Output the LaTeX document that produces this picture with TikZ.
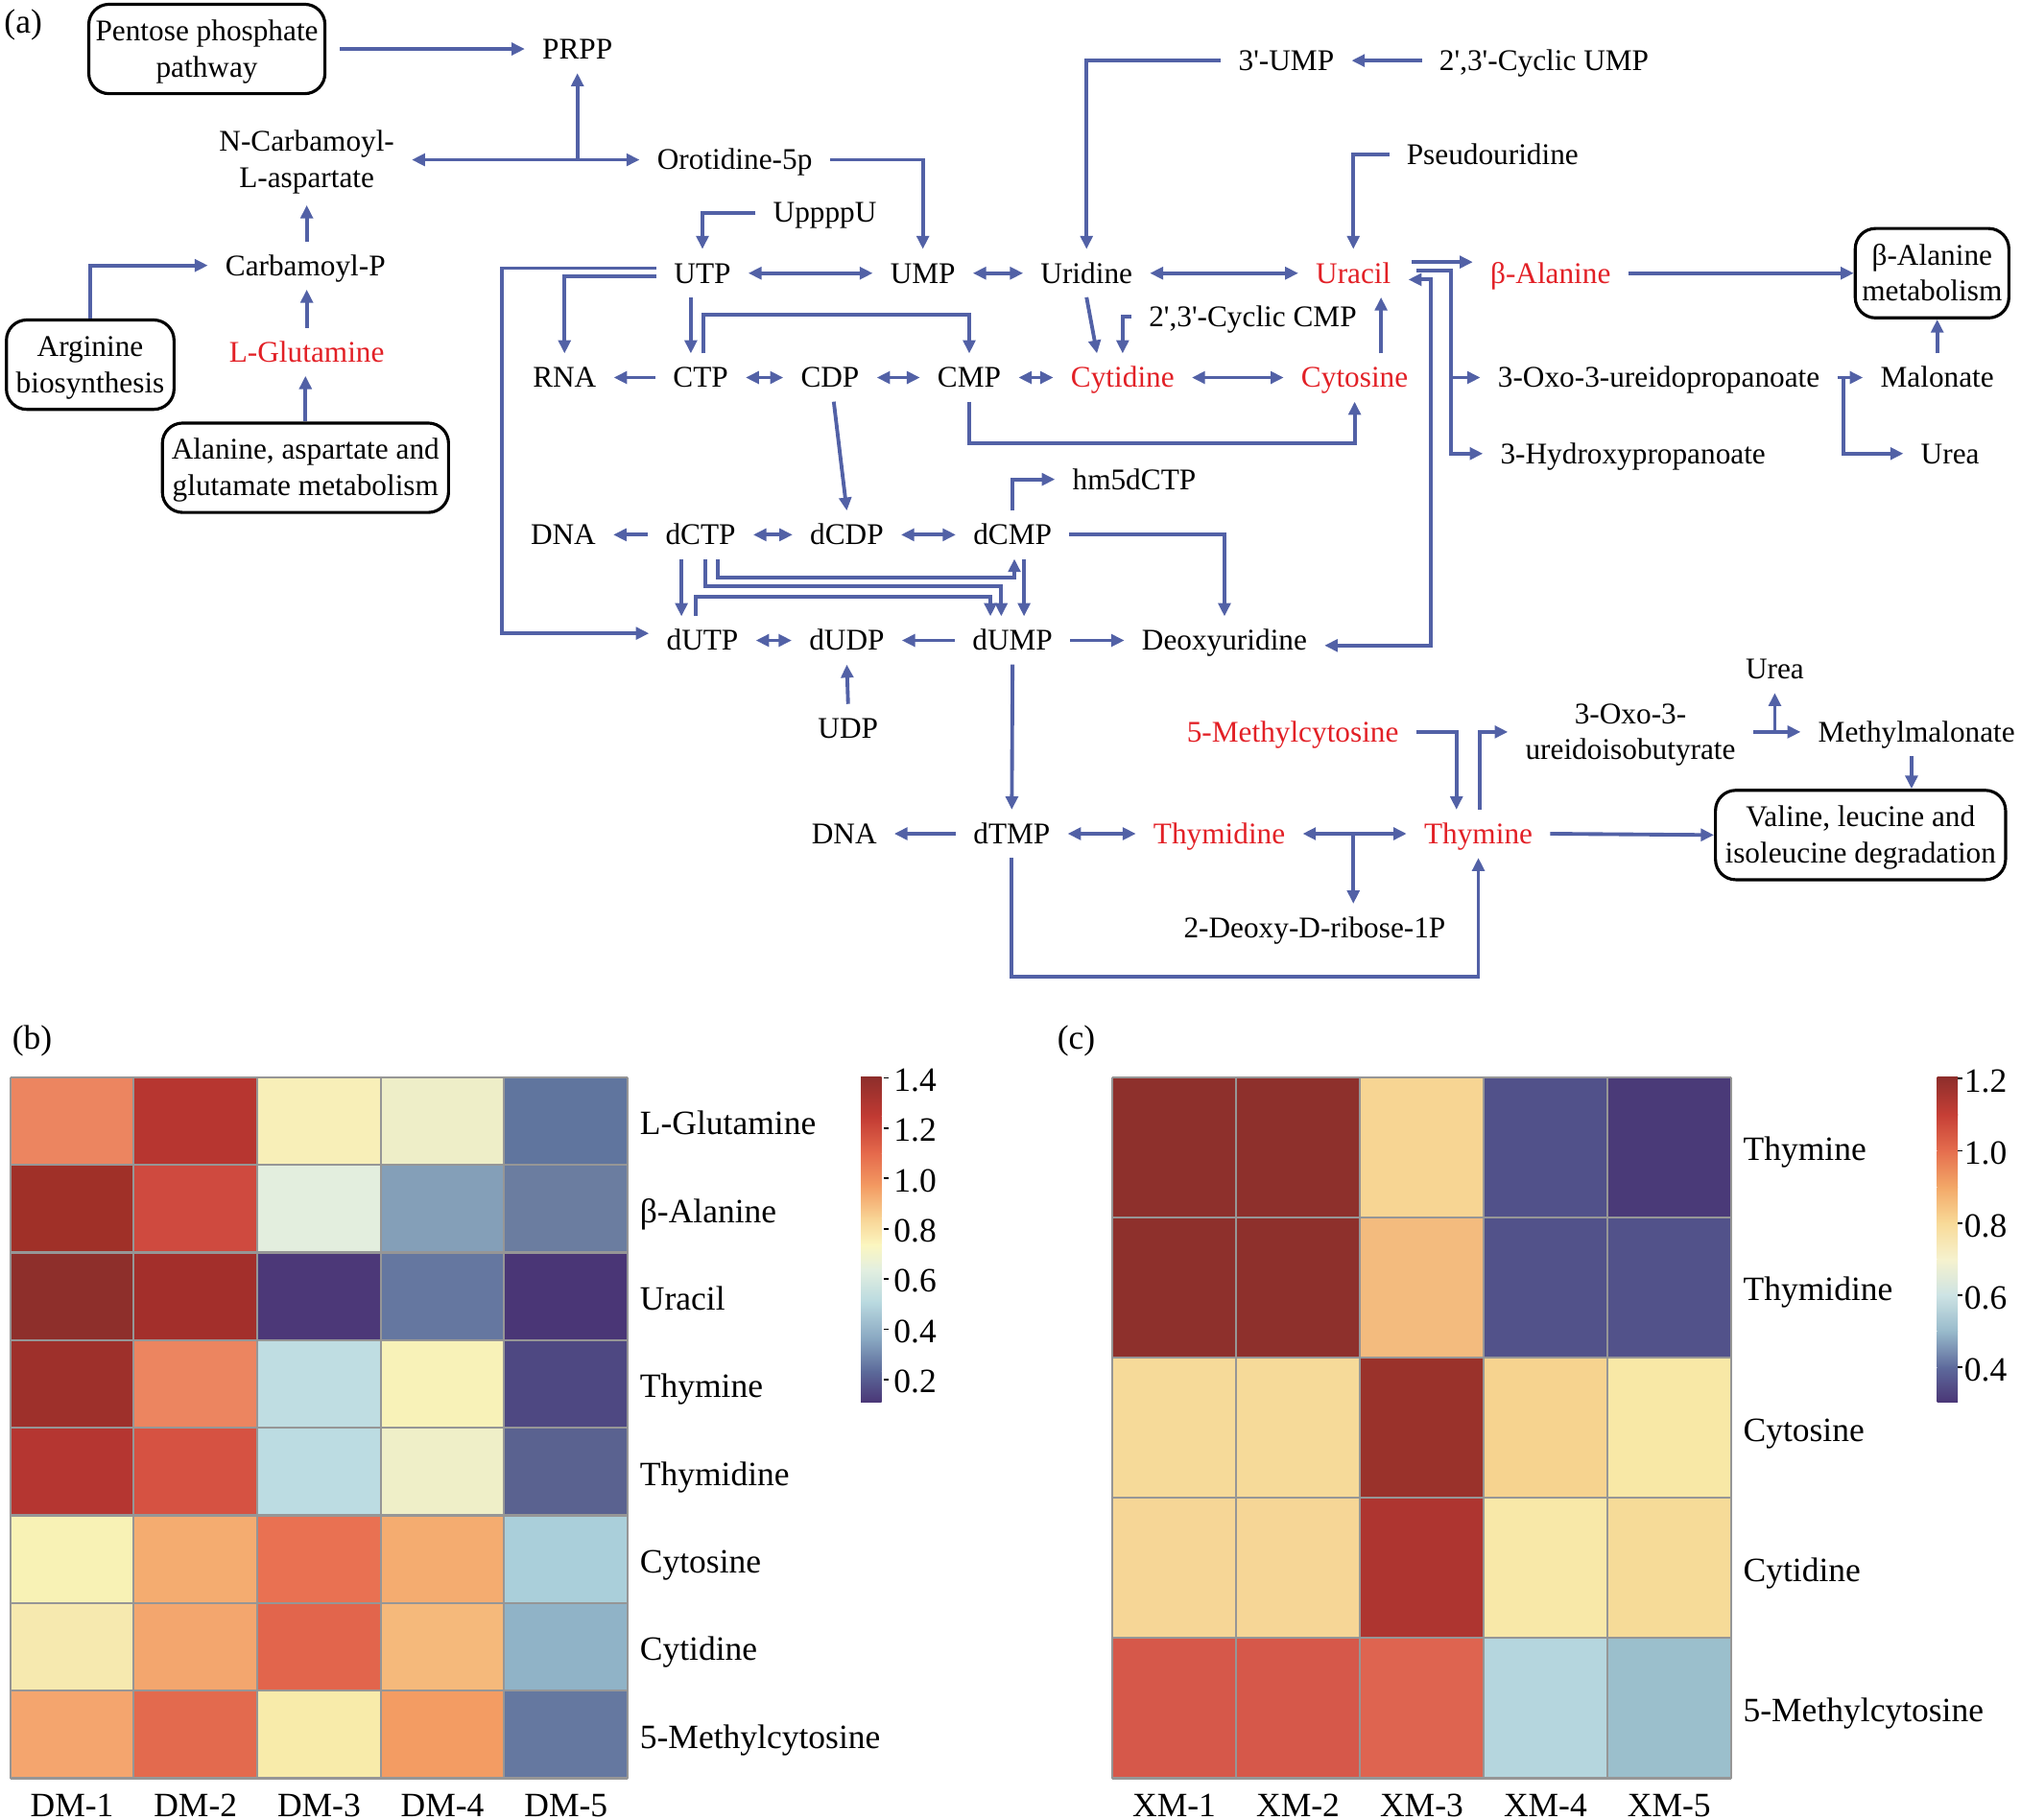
\documentclass[tikz,border=0pt]{standalone}
\usepackage{fontspec}
\setmainfont{Liberation Serif}
\usetikzlibrary{arrows.meta,calc}
\definecolor{ln}{RGB}{82,97,166}
\definecolor{hl}{RGB}{226,32,38}
\definecolor{gridc}{RGB}{150,150,150}
\newcommand\topstr{\rule{0pt}{7.8pt}}
\newcommand\botstr{\rule[-2pt]{0pt}{2pt}}
\newcommand\sq{\textquotesingle}
\tikzset{
  >={Triangle[length=3.9pt,width=3.6pt]},
  con/.style={draw=ln, line width=1.1pt, ->},
  bcon/.style={draw=ln, line width=1.1pt, <->},
  met/.style={font=\fontsize{8.9}{10.7}\selectfont, text height=6.9pt, text depth=1pt, inner xsep=5pt, inner ysep=3pt},
  hit/.style={met, text=hl},
  two/.style={font=\fontsize{8.9}{10.7}\selectfont, align=center, inner xsep=5pt, inner ysep=3pt},
  pbox/.style={two, draw=black, line width=0.9pt, rounded corners=6pt, inner xsep=2pt},
  hlab/.style={font=\fontsize{10.1}{12}\selectfont, text height=7.8pt, text depth=1.1pt, inner sep=0pt, anchor=west},
  clab/.style={font=\fontsize{10.1}{12}\selectfont, text height=7pt, text depth=0pt, inner sep=0pt, anchor=center},
  gl/.style={draw=gridc, line width=0.6pt},
  plab/.style={font=\fontsize{10.1}{12}\selectfont, inner sep=0pt}
}
\begin{document}
\begin{tikzpicture}[x=0.01343cm, y=-0.01343cm]
\useasboundingbox (0,0) rectangle (1568,1412);
% ---------- panel (a) ----------
\node[plab] (la) at (18,19) {(a)};
\node[pbox, minimum width=2.458cm, minimum height=0.9cm] (pent) at (160.5,38) {\topstr Pentose phosphate\\pathway\botstr};
\node[met] (prpp) at (448,38) {PRPP};
\node[two] (ncarb) at (238,124) {\topstr N-Carbamoyl-\\L-aspartate\botstr};
\node[met] (orot) at (570,124) {Orotidine-5p};
\node[met] (carb) at (237,206) {Carbamoyl-P};
\node[hit] (lglu) at (238,273) {L-Glutamine};
\node[pbox, minimum width=1.746cm, minimum height=0.886cm] (arg) at (70,283) {\topstr Arginine\\biosynthesis\botstr};
\node[pbox, minimum width=2.981cm, minimum height=0.886cm] (ala) at (237,363) {\topstr Alanine, aspartate and\\glutamate metabolism\botstr};
\node[met] (upppu) at (640,165) {UppppU};
\node[met] (utp) at (545,212) {UTP};
\node[met] (ump) at (716,212) {UMP};
\node[met] (urid) at (843,212) {Uridine};
\node[hit] (ura) at (1050,212) {Uracil};
\node[hit] (bala) at (1203,212) {β-Alanine};
\node[pbox, minimum width=1.558cm, minimum height=0.886cm] (bam) at (1499,212) {\topstr β-Alanine\\metabolism\botstr};
\node[met] (ump3) at (998,47) {3\sq-UMP};
\node[met] (cump) at (1198,47) {2\sq,3\sq-Cyclic UMP};
\node[met] (pseu) at (1158,120) {Pseudouridine};
\node[met] (ccmp) at (972,246) {2\sq,3\sq-Cyclic CMP};
\node[met] (rna) at (438,293) {RNA};
\node[met] (ctp) at (543.6,293) {CTP};
\node[met] (cdp) at (644,293) {CDP};
\node[met] (cmp) at (752,293) {CMP};
\node[hit] (cytd) at (871,293) {Cytidine};
\node[hit] (cyto) at (1051,293) {Cytosine};
\node[met] (oxop) at (1287,293) {3-Oxo-3-ureidopropanoate};
\node[met] (malo) at (1503,293) {Malonate};
\node[met] (hyd) at (1267,352) {3-Hydroxypropanoate};
\node[met] (urea1) at (1513,352) {Urea};
\node[met] (hm) at (880,372) {hm5dCTP};
\node[met] (dna1) at (437,415) {DNA};
\node[met] (dctp) at (543.6,415) {dCTP};
\node[met] (dcdp) at (657,415) {dCDP};
\node[met] (dcmp) at (785.6,415) {dCMP};
\node[met] (dutp) at (545,497) {dUTP};
\node[met] (dudp) at (657,497) {dUDP};
\node[met] (dump) at (785.6,497) {dUMP};
\node[met] (deox) at (950,497) {Deoxyuridine};
\node[met] (udp) at (658,565) {UDP};
\node[hit] (mcyt) at (1003,568) {5-Methylcytosine};
\node[two] (oxoi) at (1265,568) {\topstr 3-Oxo-3-\\ureidoisobutyrate\botstr};
\node[met] (urea2) at (1377,519) {Urea};
\node[met] (mmal) at (1487,568) {Methylmalonate};
\node[pbox, minimum width=3.022cm, minimum height=0.913cm] (val) at (1443.5,648) {\topstr Valine, leucine and\\isoleucine degradation\botstr};
\node[met] (dna2) at (655,647) {DNA};
\node[met] (dtmp) at (785,647) {dTMP};
\node[hit] (thyd) at (946,647) {Thymidine};
\node[hit] (thy) at (1147,647) {Thymine};
\node[met] (deoxr) at (1020,720) {2-Deoxy-D-ribose-1P};
% helper coordinates
\coordinate (xloop) at (389.6,0);
\coordinate (xa) at (536,0);
\coordinate (yb) at (0,244);
\coordinate (xc) at (1071.5,0);
\coordinate (yd) at (0,344);
\coordinate (xub) at (1126,0);
\coordinate (xuc) at (1110,0);
\coordinate (xom) at (1430,0);
\coordinate (k1) at (528.7,0);
\coordinate (k2) at (540,0);
\coordinate (k3) at (547.3,0);
\coordinate (k4) at (557,0);
\coordinate (k5) at (768.4,0);
\coordinate (k6) at (776.8,0);
\coordinate (k7) at (787,0);
\coordinate (k8) at (794.5,0);
\coordinate (h1) at (0,448);
\coordinate (h2) at (0,455);
\coordinate (h3) at (0,463);
\coordinate (xe) at (1050,0);
\coordinate (yf) at (0,758);
\coordinate (xg) at (1130,0);
\coordinate (xh) at (1148,0);
\coordinate (ua) at ([yshift=3.3pt,xshift=1pt]ura.east);
\coordinate (ub) at ([yshift=0.75pt,xshift=2.5pt]ura.east);
\coordinate (uc) at ([yshift=-1.9pt]ura.east);
\coordinate (deoxin) at ([yshift=-1.5pt]deox.east);
\coordinate (utpa) at ([yshift=1.5pt]utp.west);
\coordinate (utpb) at ([yshift=-0.9pt]utp.west);
\coordinate (dutpin) at ([yshift=2.1pt]dutp.west);
\coordinate (ctpo) at ([xshift=0.8pt]ctp.north);
\coordinate (pento) at ([xshift=4pt]pent.east);
% connectors
\draw[con] (pento) -- (prpp.west);
\draw[bcon] (ncarb.east) -- (orot.west);
\draw[con] (prpp.south |- ncarb.east) -- (prpp.south);
\draw[con] (lglu.north |- carb.north) -- (lglu.north |- ncarb.south);
\draw[con] (lglu.north) -- (lglu.north |- carb.south);
\draw[con] (arg.north) |- (carb.west);
\draw[con] (ala.north) -- (ala.north |- lglu.south);
\draw[con] (upppu.west) -| (utp.north);
\draw[con] (orot.east) -| (ump.north);
\draw[con] (ump3.west) -| (urid.north);
\draw[con] (cump.west) -- (ump3.east);
\draw[con] (pseu.west) -| (ura.north);
\draw[bcon] (utp.east) -- (ump.west);
\draw[bcon] (ump.east) -- (urid.west);
\draw[bcon] (urid.east) -- (ura.west);
\draw[con] (ua) -- (ua -| bala.west);
\draw[con] (ub) -| (xub |- hyd.west) -- (hyd.west);
\draw[con] (xub |- oxop.west) -- (oxop.west);
\draw[bcon] (uc) -| (xuc |- deoxin) -- (deoxin);
\draw[con] (bala.east) -- (bala.east -| bam.west);
\draw[con] (malo.north) -- (malo.north |- bam.south);
\draw[con] (oxop.east) -- (malo.west);
\draw[con] (xom |- oxop.east) |- (urea1.west);
\draw[con] (ccmp.west) -| (cytd.north);
\draw[con] (urid.south) -- ([xshift=-7.6pt]cytd.north);
\draw[con] (utpa) -| (xloop |- dutpin) -- (dutpin);
\draw[con] (utpb) -| (rna.north);
\draw[con] (xa |- utp.south) -- (xa |- ctp.north);
\draw[con] (ctpo) |- (cmp.north |- yb) -- (cmp.north);
\draw[con] (ctp.west) -- (rna.east);
\draw[bcon] (ctp.east) -- (cdp.west);
\draw[bcon] (cdp.east) -- (cmp.west);
\draw[bcon] (cmp.east) -- (cytd.west);
\draw[bcon] (cytd.east) -- (cyto.west);
\draw[con] (xc |- cyto.north) -- (xc |- ura.south);
\draw[con] (cmp.south) -- (cmp.south |- yd) -| (cyto.south);
\draw[con] ([xshift=1.1pt]cdp.south) -- (dcdp.north);
\draw[con] (dcmp.north) |- (hm.west);
\draw[con] (dcmp.east) -| (deox.north);
\draw[con] (dctp.west) -- (dna1.east);
\draw[bcon] (dctp.east) -- (dcdp.west);
\draw[bcon] (dcdp.east) -- (dcmp.west);
\draw[con] (k1 |- dctp.south) -- (k1 |- dutp.north);
\draw[con] (k4 |- dctp.south) -- (k4 |- h1) -- (k7 |- h1) -- (k7 |- dcmp.south);
\draw[con] (k3 |- dctp.south) -- (k3 |- h2) -- (k6 |- h2) -- (k6 |- dump.north);
\draw[con] (k2 |- dutp.north) -- (k2 |- h3) -- (k5 |- h3) -- (k5 |- dump.north);
\draw[con] (k8 |- dcmp.south) -- (k8 |- dump.north);
\draw[bcon] (dutp.east) -- (dudp.west);
\draw[con] (dump.west) -- (dudp.east);
\draw[con] (dump.east) -- (deox.west);
\draw[con] (udp.north) -- (dudp.south);
\draw[con] (dump.south) -- (dtmp.north);
\draw[con] (dtmp.west) -- (dna2.east);
\draw[bcon] (dtmp.east) -- (thyd.west);
\draw[bcon] (thyd.east) -- (thy.west);
\draw[con] (xe |- thy.west) -- (xe |- deoxr.north);
\draw[con] (dtmp.south) -- (dtmp.south |- yf) -| (thy.south);
\draw[con] (mcyt.east) -| (xg |- thy.north);
\draw[con] (xh |- thy.north) |- (oxoi.west);
\draw[con] (oxoi.east) -- (mmal.west);
\draw[con] (urea2.south |- mmal.west) -- (urea2.south);
\draw[con] ([xshift=-1.5pt]mmal.south) -- ([xshift=-1.5pt]mmal.south |- val.north);
\draw[con] (thy.east) -- (val.west);
% ---------- panel (b) ----------
\node[plab] (lb) at (25,808) {(b)};
\foreach \rw [count=\i from 0] in {
 {EC8560,B73630,F8EFB8,EEEEC8,60759E},
 {A03028,CF4A3F,E3EEDE,849FB8,6B7DA0},
 {8E2F2B,A32F2B,4C3878,6577A0,4A3676},
 {9E302B,EC8560,BFDDE2,F8F2B8,4E4882},
 {B53631,D65242,BCDCE2,EFEFC8,5A6290},
 {F8F2B5,F4AC70,E97152,F4AC70,AACFDA},
 {F6E9AF,F3A66E,E2654C,F5B97B,90B3C7},
 {F4A56E,E36A4E,F8EBAA,F39C63,6578A0}} {
  \foreach \hx [count=\j from 0] in \rw {
    \definecolor{tmpc}{HTML}{\hx}
    \fill[tmpc] (8+95.8*\j,836+68*\i) rectangle ++(95.8,68);
  }
}
\foreach \j in {0,...,5} \draw[gl] (8+95.8*\j,836) -- (8+95.8*\j,1380);
\foreach \i in {0,...,8} \draw[gl] (8,836+68*\i) -- (487,836+68*\i);
\foreach \nm [count=\i from 0] in {L-Glutamine,β-Alanine,Uracil,Thymine,Thymidine,Cytosine,Cytidine,5-Methylcytosine}
  \node[hlab] (rb\i) at (496,872+68*\i) {\nm};
\foreach \nm [count=\j from 0] in {DM-1,DM-2,DM-3,DM-4,DM-5}
  \node[clab] (cb\j) at (55.9+95.8*\j,1400.5) {\nm};
\foreach \ya/\ca/\yb/\cb in {836/8E2E2B/866/C13A33, 866/C13A33/895/E56A4C, 895/E56A4C/920/F39A62, 920/F39A62/945/F8D394, 945/F8D394/966/FBF6C0, 966/FBF6C0/985/E3EFE0, 985/E3EFE0/1010/BADAE0, 1010/BADAE0/1040/87A5C0, 1040/87A5C0/1064/5C6A9A, 1064/5C6A9A/1088/4A3676} {
  \definecolor{ta}{HTML}{\ca}\definecolor{tb}{HTML}{\cb}
  \shade[top color=ta, bottom color=tb] (668,\ya) rectangle (684,\yb+0.4);
}
\foreach \v [count=\i from 0] in {1.4,1.2,1.0,0.8,0.6,0.4,0.2} {
  \draw[black, line width=0.5pt] (685.5,836.5+39*\i) -- (689.5,836.5+39*\i);
  \node[hlab] (tb\i) at (693,838+39*\i) {\v};
}
% ---------- panel (c) ----------
\node[plab] (lc) at (835,808) {(c)};
\foreach \rw [count=\i from 0] in {
 {8E302C,8E302C,F7D593,51518A,4A3A78},
 {8E302C,8E302C,F3BB7E,52528A,52528A},
 {F6DA99,F6DA99,9A322B,F6D38F,F8E8A6},
 {F6D696,F6D696,AE3530,F8E8A8,F6DB98},
 {D6584A,D6584A,DE6450,B5D6DE,9BBFCC}} {
  \foreach \hx [count=\j from 0] in \rw {
    \definecolor{tmpc}{HTML}{\hx}
    \fill[tmpc] (863+96*\j,836+108.8*\i) rectangle ++(96,108.8);
  }
}
\foreach \j in {0,...,5} \draw[gl] (863+96*\j,836) -- (863+96*\j,1380);
\foreach \i in {0,...,5} \draw[gl] (863,836+108.8*\i) -- (1343,836+108.8*\i);
\foreach \nm [count=\i from 0] in {Thymine,Thymidine,Cytosine,Cytidine,5-Methylcytosine}
  \node[hlab] (rc\i) at (1352,892+108.8*\i) {\nm};
\foreach \nm [count=\j from 0] in {XM-1,XM-2,XM-3,XM-4,XM-5}
  \node[clab] (cc\j) at (911+96*\j,1400.5) {\nm};
\foreach \ya/\ca/\yb/\cb in {836/8E2E2B/865/C63F36, 865/C63F36/893/E56E4E, 893/E56E4E/921/F3A868, 921/F3A868/949/F8DA98, 949/F8DA98/977/F6F2CE, 977/F6F2CE/1005/CDE3E4, 1005/CDE3E4/1033/98BACB, 1033/98BACB/1061/5E6A9C, 1061/5E6A9C/1088/4A3676} {
  \definecolor{ta}{HTML}{\ca}\definecolor{tb}{HTML}{\cb}
  \shade[top color=ta, bottom color=tb] (1503,\ya) rectangle (1519,\yb+0.4);
}
\foreach \v [count=\i from 0] in {1.2,1.0,0.8,0.6,0.4} {
  \draw[black, line width=0.5pt] (1519,837+56*\i) -- (1522.5,837+56*\i);
  \node[hlab] (tc\i) at (1523.5,839+56*\i) {\v};
}
\end{tikzpicture}
\end{document}
